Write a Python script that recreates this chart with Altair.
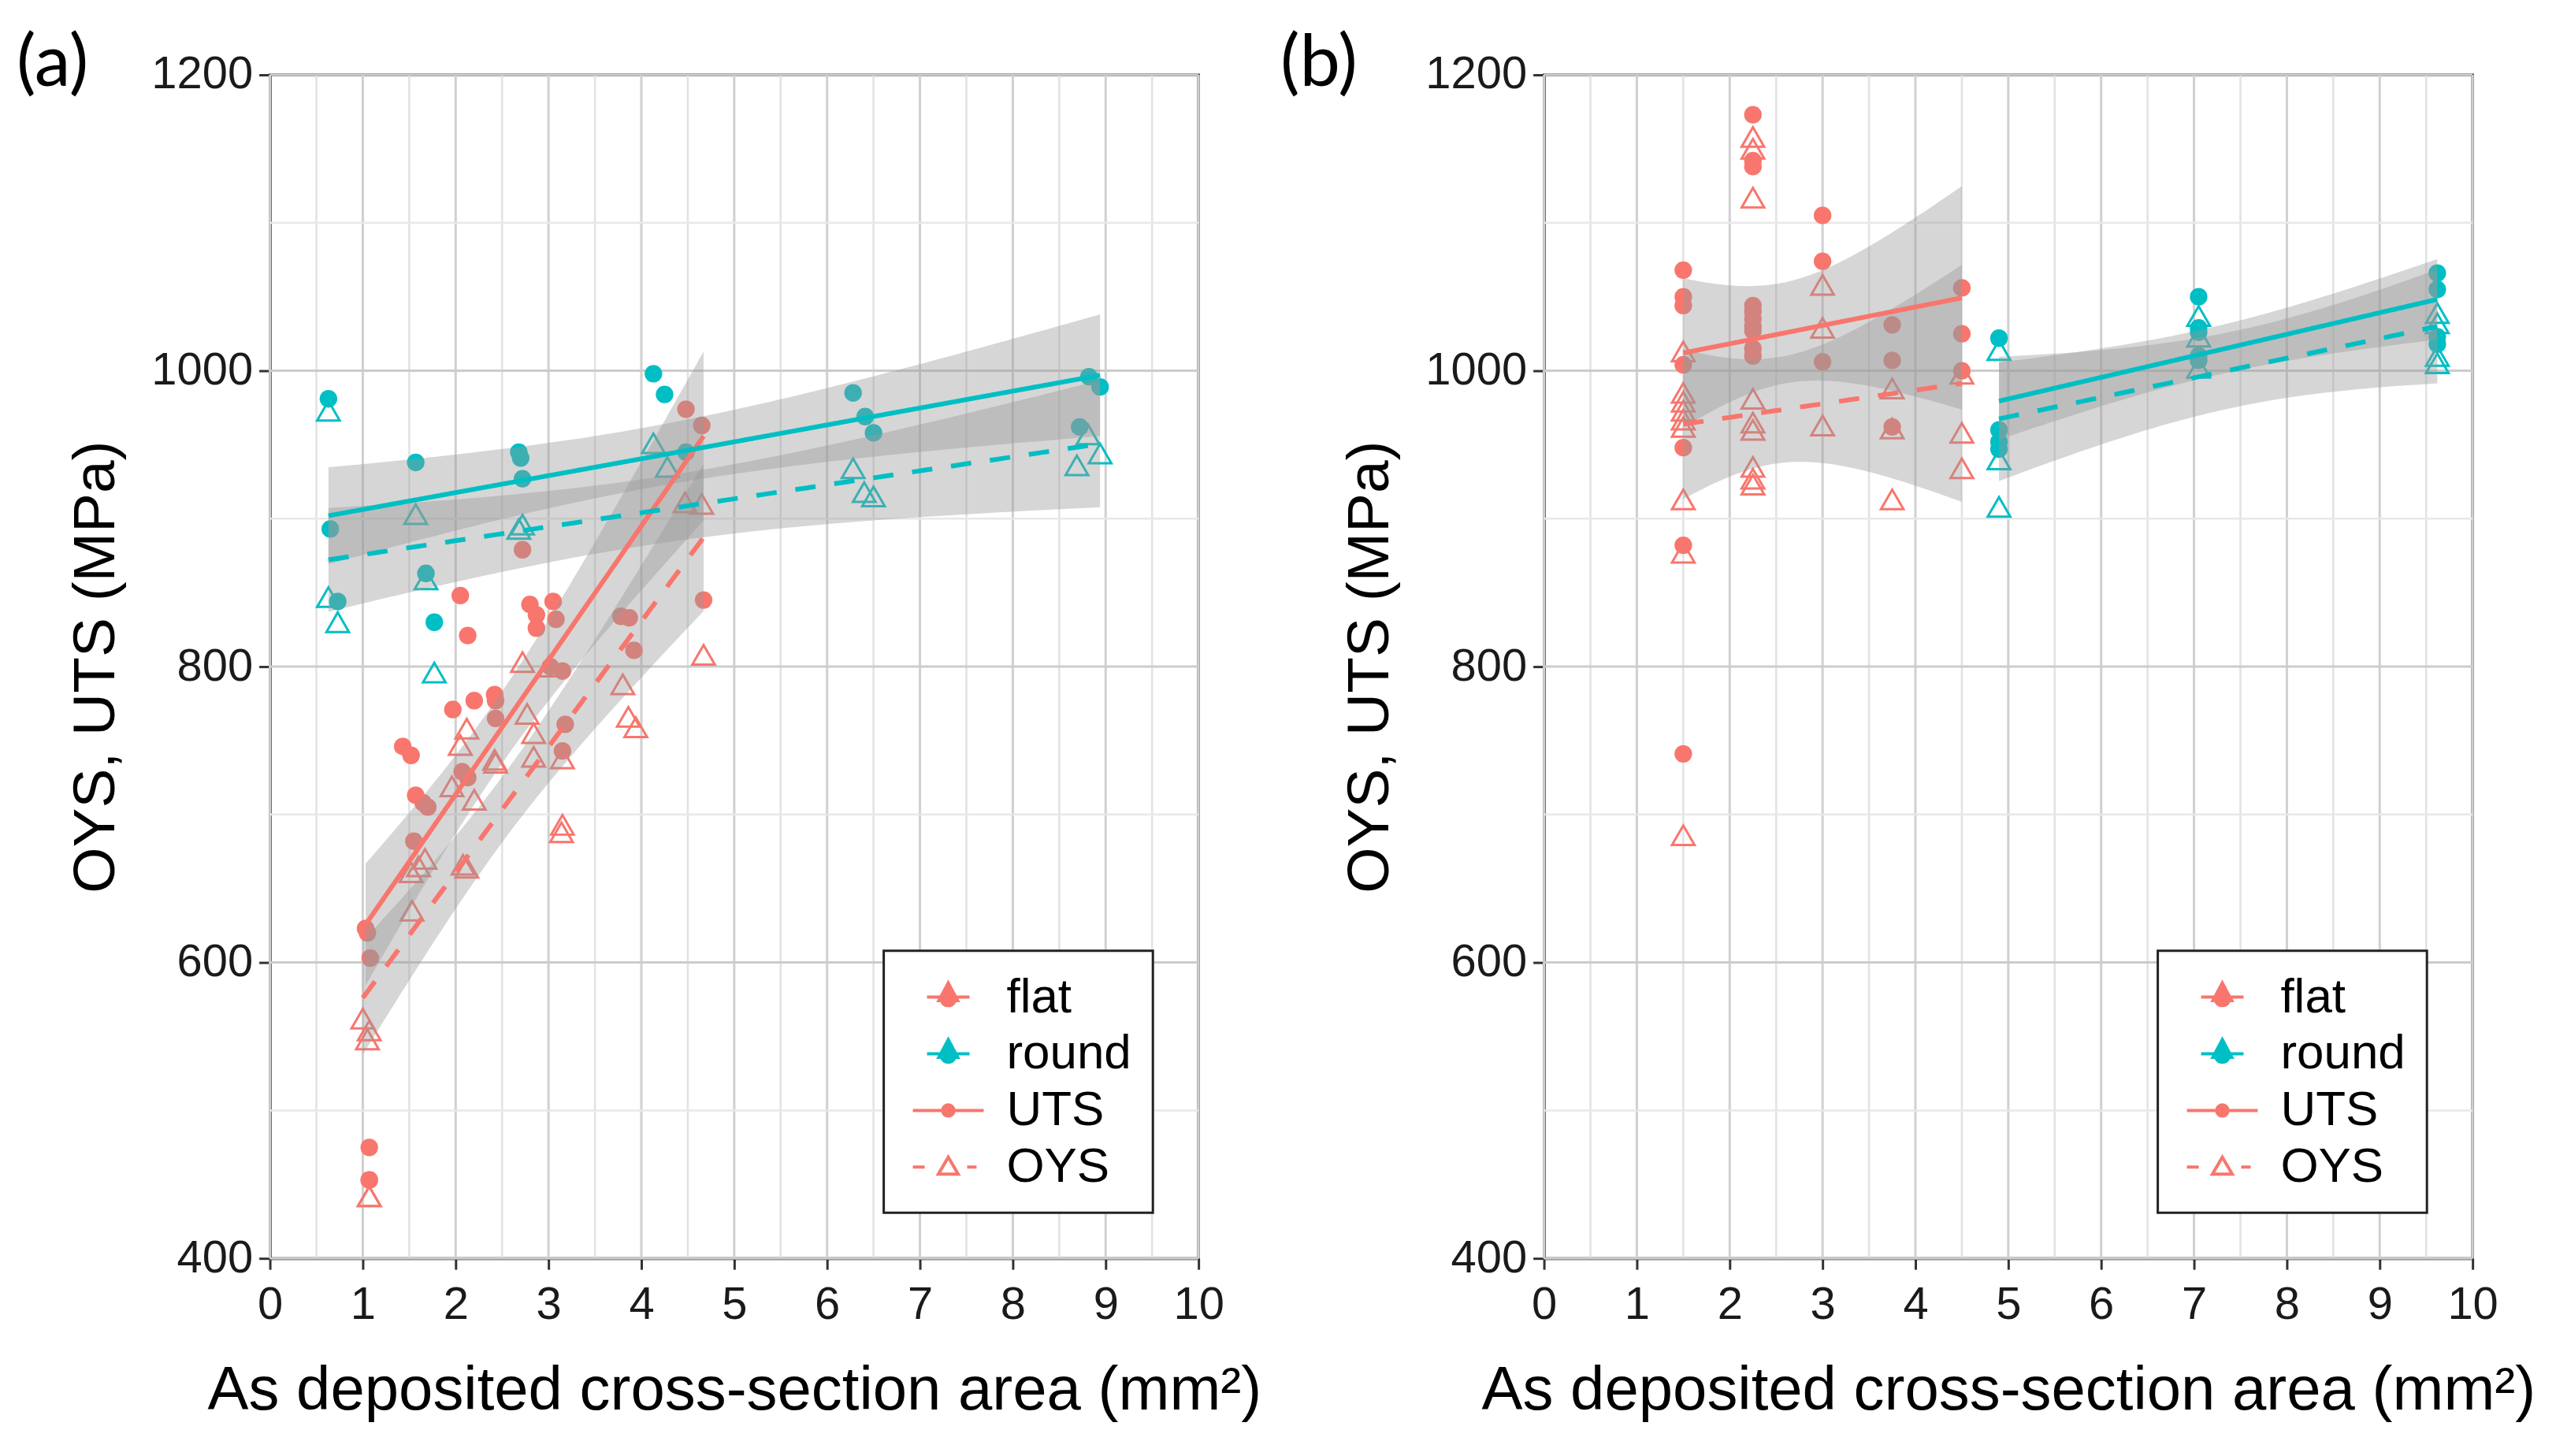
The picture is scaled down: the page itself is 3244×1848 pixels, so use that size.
import altair as alt
import numpy as np
import pandas as pd

RED = "#F8766D"
TEAL = "#00BFC4"

# ---------------- Panel (a) data ----------------
a_round_uts_x = [0.63, 0.65, 0.73, 1.57, 1.68, 1.77, 2.68, 2.70, 2.72, 4.13, 4.25, 4.48, 6.28, 6.41, 6.50, 8.72, 8.82, 8.94]
a_round_uts_y = [981, 893, 844, 938, 863, 830, 945, 941, 927, 998, 984, 945, 985, 969, 958, 962, 996, 989]
a_round_oys_x = [0.63, 0.63, 0.73, 1.57, 1.68, 1.77, 2.68, 2.72, 4.13, 4.28, 6.28, 6.40, 6.50, 8.69, 8.81, 8.94]
a_round_oys_y = [973, 847, 830, 903, 859, 796, 893, 896, 951, 935, 934, 918, 915, 936, 957, 944]
a_flat_uts_x = [1.03, 1.05, 1.08, 1.07, 1.07, 1.07, 1.43, 1.52, 1.57, 1.55, 1.65, 1.70, 1.97, 2.05, 2.07, 2.13, 2.13,
                2.20, 2.42, 2.43, 2.43, 2.72, 2.80, 2.87, 2.87, 3.05, 3.08, 3.02, 3.15, 3.18, 3.15, 3.78, 3.87,
                3.92, 4.48, 4.65, 4.67]
a_flat_uts_y = [623, 620, 603, 475, 453, 453, 746, 740, 713, 682, 708, 705, 771, 848, 729, 725, 821,
                777, 781, 777, 765, 879, 842, 835, 826, 844, 832, 800, 797, 761, 743, 834, 833,
                811, 974, 963, 845]
a_flat_oys_x = [1.00, 1.07, 1.05, 1.07, 1.07, 1.53, 1.52, 1.67, 1.60, 1.96, 2.05, 2.12, 2.20, 2.08, 2.12, 2.42,
                2.43, 2.72, 2.77, 2.84, 2.84, 3.00, 3.15, 3.14, 3.15, 3.80, 3.86, 3.94, 4.47, 4.65, 4.67]
a_flat_oys_y = [562, 554, 548, 442, 442, 635, 661, 670, 665, 719, 747, 758, 710, 666, 664, 737,
                735, 803, 768, 755, 739, 800, 693, 688, 738, 788, 766, 759, 911, 910, 808]

# ---------------- Panel (b) data ----------------
b_flat_uts_x = [1.5] * 7 + [2.25] * 10 + [3.0] * 3 + [3.75] * 3 + [4.5] * 3
b_flat_uts_y = [1068, 1050, 1044, 1004, 948, 882, 741,
                1173, 1142, 1138, 1044, 1040, 1035, 1030, 1027, 1015, 1010,
                1105, 1074, 1006,
                1031, 1007, 962,
                1056, 1025, 1000]
b_flat_oys_x = [1.5] * 9 + [2.25] * 9 + [3.0] * 3 + [3.75] * 3 + [4.5] * 3
b_flat_oys_y = [1013, 985, 979, 973, 967, 962, 913, 877, 686,
                1158, 1150, 1117, 981, 965, 960, 935, 927, 923,
                1058, 1029, 963,
                988, 961, 913,
                998, 958, 934]
b_round_uts_x = [4.9] * 4 + [7.05] * 5 + [9.62] * 4
b_round_uts_y = [1022, 960, 952, 947,
                 1050, 1029, 1026, 1010, 1007,
                 1066, 1055, 1023, 1018]
b_round_oys_x = [4.9] * 3 + [7.05] * 3 + [9.62] * 4
b_round_oys_y = [1014, 940, 908,
                 1037, 1023, 1002,
                 1039, 1032, 1010, 1005]

x_major = list(range(0, 11))
x_minor = [0.5, 1.5, 2.5, 3.5, 4.5, 5.5, 6.5, 7.5, 8.5, 9.5]
y_major = [400, 600, 800, 1000, 1200]
y_minor = [500, 700, 900, 1100]

legend_labels = ["flat", "round", "UTS", "OYS"]
legend_paths = [
    "M-0.9,0L0.9,0M0,-0.6L0.4,0.15L-0.4,0.15ZM0.3,0.06A0.3,0.3,0,1,1,-0.3,0.06A0.3,0.3,0,1,1,0.3,0.06Z",
    "M-0.9,0L0.9,0M0,-0.6L0.4,0.15L-0.4,0.15ZM0.3,0.06A0.3,0.3,0,1,1,-0.3,0.06A0.3,0.3,0,1,1,0.3,0.06Z",
    "M-1.5,0L1.5,0M0.24,0A0.24,0.24,0,1,1,-0.24,0A0.24,0.24,0,1,1,0.24,0Z",
    "M-1.5,0L-1.0,0M0.8,0L1.2,0M0,-0.42L0.42,0.3L-0.42,0.3Z",
]

x_title = "As deposited cross-section area  (mm²)"
y_title = "OYS, UTS (MPa)"

# ---------------- build tables ----------------
series = [
    ("a", "flat", "UTS", a_flat_uts_x, a_flat_uts_y),
    ("a", "flat", "OYS", a_flat_oys_x, a_flat_oys_y),
    ("a", "round", "UTS", a_round_uts_x, a_round_uts_y),
    ("a", "round", "OYS", a_round_oys_x, a_round_oys_y),
    ("b", "flat", "UTS", b_flat_uts_x, b_flat_uts_y),
    ("b", "flat", "OYS", b_flat_oys_x, b_flat_oys_y),
    ("b", "round", "UTS", b_round_uts_x, b_round_uts_y),
    ("b", "round", "OYS", b_round_oys_x, b_round_oys_y),
]


def tq(df):
    z = 1.959964
    g1 = (z ** 3 + z) / 4
    g2 = (5 * z ** 5 + 16 * z ** 3 + 3 * z) / 96
    g3 = (3 * z ** 7 + 19 * z ** 5 + 17 * z ** 3 - 15 * z) / 384
    return z + g1 / df + g2 / df ** 2 + g3 / df ** 3


pt_frames = []
fit_frames = []
for pid, typ, prop, xs, ys in series:
    x = np.array(xs, float)
    y = np.array(ys, float)
    pt_frames.append(pd.DataFrame({"panel": pid, "Type": typ, "Prop": prop, "x": x, "y": y}))
    n = len(x)
    xm, ym = x.mean(), y.mean()
    sxx = ((x - xm) ** 2).sum()
    b = ((x - xm) * (y - ym)).sum() / sxx
    a0 = ym - b * xm
    s = np.sqrt(((y - (a0 + b * x)) ** 2).sum() / (n - 2))
    g = np.linspace(x.min(), x.max(), 80)
    f = a0 + b * g
    se = s * np.sqrt(1.0 / n + (g - xm) ** 2 / sxx)
    t = tq(n - 2)
    fit_frames.append(pd.DataFrame({"panel": pid, "Type": typ, "Prop": prop, "grp": typ + prop,
                                    "x": g, "fit": f, "lo": f - t * se, "hi": f + t * se}))
points = pd.concat(pt_frames, ignore_index=True)
fits = pd.concat(fit_frames, ignore_index=True)

FONT = "Liberation Sans"


def make_panel(pid, label, dx):
    pts = points[points.panel == pid]
    fts = fits[fits.panel == pid]
    xs = alt.Scale(domain=[0, 10], nice=False, zero=False)
    ys = alt.Scale(domain=[400, 1200], nice=False, zero=False)
    xax = alt.Axis(values=x_major, title=x_title, grid=False, domainColor="black", domainWidth=3,
                   tickColor="#333333", tickWidth=3, tickSize=14, labelFontSize=58, labelFont=FONT,
                   labelColor="#1a1a1a", labelPadding=16, titleFontSize=78, titleFont=FONT,
                   titleFontWeight="normal", titleColor="black", titlePadding=42, labelFlush=False,
                   format="d")
    yax = alt.Axis(values=y_major, title=y_title, grid=False, domainColor="black", domainWidth=3,
                   tickColor="#333333", tickWidth=3, tickSize=14, labelFontSize=58, labelFont=FONT,
                   labelColor="#1a1a1a", labelPadding=8, titleFontSize=75, titleFont=FONT,
                   titleFontWeight="normal", titleColor="black", titlePadding=31, labelFlush=False,
                   format="d")

    def X(f):
        return alt.X(f, type="quantitative", scale=xs, axis=xax)

    def Y(f):
        return alt.Y(f, type="quantitative", scale=ys, axis=yax)

    color = alt.Color("Type:N", scale=alt.Scale(domain=["flat", "round"], range=[RED, TEAL]), legend=None)

    gx_minor = alt.Chart(pd.DataFrame({"v": x_minor})).mark_rule(color="#e2e2e2", strokeWidth=2.5).encode(x=X("v"))
    gx_major = alt.Chart(pd.DataFrame({"v": x_major})).mark_rule(color="#d0d0d0", strokeWidth=3).encode(x=X("v"))
    gy_minor = alt.Chart(pd.DataFrame({"v": y_minor})).mark_rule(color="#e8e8e8", strokeWidth=2.5).encode(y=Y("v"))
    gy_major = alt.Chart(pd.DataFrame({"v": y_major})).mark_rule(color="#cccccc", strokeWidth=3).encode(y=Y("v"))

    uts = alt.Chart(pts[pts.Prop == "UTS"]).mark_point(filled=True, shape="circle", size=500, opacity=1).encode(
        x=X("x"), y=Y("y"), color=color)
    oys = alt.Chart(pts[pts.Prop == "OYS"]).mark_point(filled=False, shape="triangle-up", size=820,
                                                        strokeWidth=3, opacity=1).encode(
        x=X("x"), y=Y("y"), color=color)
    band = alt.Chart(fts).mark_area(color="#999999", opacity=0.4).encode(
        x=X("x"), y=Y("lo"), y2="hi", detail="grp:N")
    line = alt.Chart(fts).mark_line(strokeWidth=6).encode(
        x=X("x"), y=Y("fit"), color=color,
        strokeDash=alt.StrokeDash("Prop:N", scale=alt.Scale(domain=["UTS", "OYS"], range=[[1, 0], [26, 24]]),
                                  legend=None),
        detail="grp:N")

    leg = alt.Legend(title=None, orient="bottom-right", offset=58)
    carrier = alt.Chart(pd.DataFrame({"Key": legend_labels})).mark_point(opacity=0, filled=False).encode(
        shape=alt.Shape("Key:N", scale=alt.Scale(domain=legend_labels, range=legend_paths), legend=leg,
                        sort=legend_labels),
        stroke=alt.Stroke("Key:N", scale=alt.Scale(domain=legend_labels, range=[RED, TEAL, RED, RED]),
                          legend=leg, sort=legend_labels),
        fill=alt.Fill("Key:N", scale=alt.Scale(domain=legend_labels, range=[RED, TEAL, RED, "transparent"]),
                      legend=leg, sort=legend_labels),
    )

    return alt.layer(gx_minor, gx_major, gy_minor, gy_major, uts, oys, band, line, carrier).properties(
        width=1180, height=1504,
        title=alt.TitleParams(text=label, anchor="start", frame="group", dx=dx, offset=-62, fontSize=92,
                              font="Lato", fontWeight="normal", color="black"))


pa = make_panel("a", "(a)", -322)
pb = make_panel("b", "(b)", -335)

chart = alt.hconcat(pa, pb, spacing=439, bounds="flush").resolve_scale(
    color="independent", shape="independent", fill="independent", stroke="independent",
    strokeDash="independent").resolve_legend(
    shape="independent", fill="independent", stroke="independent").properties(
    padding={"left": 11, "top": 24, "right": 5, "bottom": 5}, background="white"
).configure(font=FONT).configure_view(stroke="black", strokeWidth=3).configure_legend(
    strokeColor="#222222", strokeWidth=3, fillColor="white", padding=27, labelFontSize=62, labelFont=FONT,
    labelColor="black", labelOffset=42, symbolSize=3600, symbolStrokeWidth=4, rowPadding=9, symbolOpacity=1,
    symbolOffset=23, labelLimit=400
)

chart.save("out.html", embed_options={"renderer": "svg", "actions": False})
